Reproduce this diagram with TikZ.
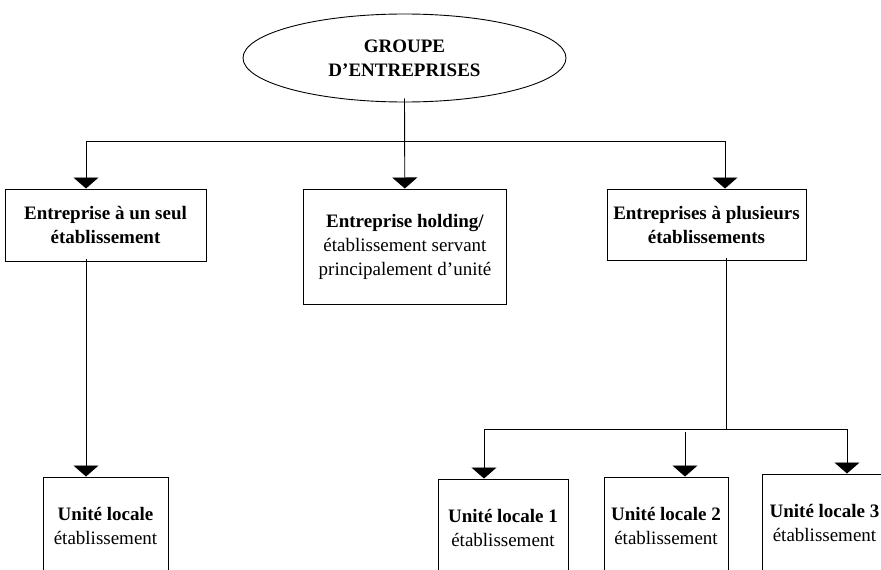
\documentclass[tikz,border=0pt]{standalone}
\usepackage{fontspec}
\setmainfont{Liberation Serif}
\usepackage{tikz}
\usetikzlibrary{arrows.meta,positioning,calc,shapes.geometric}

\begin{document}
\begin{tikzpicture}[x=1pt, y=-1pt, every node/.style={font=\fontsize{19}{24}\selectfont}, box/.style={draw, line width=1pt, align=center, inner sep=0pt}, grp/.style={draw, ellipse, line width=0.9pt, align=center, inner sep=0pt, minimum width=323pt, minimum height=88pt}, arr/.style={-{Triangle[width=25pt,length=11pt]}, line width=0.9pt}, ln/.style={line width=0.9pt}]
\useasboundingbox (0,0) rectangle (881,570);
\clip (0,0) rectangle (881,570);
\node[grp] (G) at (404.5,58) {\textbf{GROUPE}\\\textbf{D’ENTREPRISES}};
\node[box, minimum width=201pt, minimum height=72pt] (ent) at (105.5,225) {\textbf{Entreprise à un seul}\\\textbf{établissement}};
\node[box, minimum width=203pt, minimum height=115pt] (hold) at (405,246.5) {\textbf{Entreprise holding/}\\établissement servant\\principalement d’unité};
\node[box, minimum width=199pt, minimum height=71pt] (plus) at (706.5,224.5) {\textbf{Entreprises à plusieurs}\\\textbf{établissements}};
\node[box, minimum width=125pt, minimum height=98pt] (uloc) at (105.5,526) {\textbf{Unité locale}\\établissement};
\node[box, minimum width=130pt, minimum height=98pt] (ul1) at (503,528) {\textbf{Unité locale 1}\\établissement};
\node[box, minimum width=124pt, minimum height=98pt] (ul2) at (666,526) {\textbf{Unité locale 2}\\établissement};
\node[box, minimum width=125pt, minimum height=98pt] (ul3) at (824.5,523) {\textbf{Unité locale 3}\\établissement};
% first level
\coordinate (hL) at (86,141);
\coordinate (hM) at (405,141);
\coordinate (hR) at (725,141);
\draw[ln] (hL) -- (hR);
\draw[arr] ([yshift=4pt]G.south) -- (hold);
\draw[arr] (hL) -- (hL |- ent.north);
\draw[arr] (hR) -- (hR |- plus.north);
\draw[arr] ([yshift=3pt]ent.south -| hL) -- (hL |- uloc.north);
% second level
\coordinate (b1) at (484,429);
\coordinate (bR) at (726,429);
\coordinate (b2) at (685,432);
\coordinate (b3) at (847,429);
\draw[ln] ([yshift=3pt]plus.south -| bR) -- (bR);
\draw[ln] (b1) -- (b3);
\draw[arr] (b1) -- (b1 |- ul1.north);
\draw[arr] (b2) -- (b2 |- ul2.north);
\draw[arr] (b3) -- (b3 |- ul3.north);
\end{tikzpicture}
\end{document}
